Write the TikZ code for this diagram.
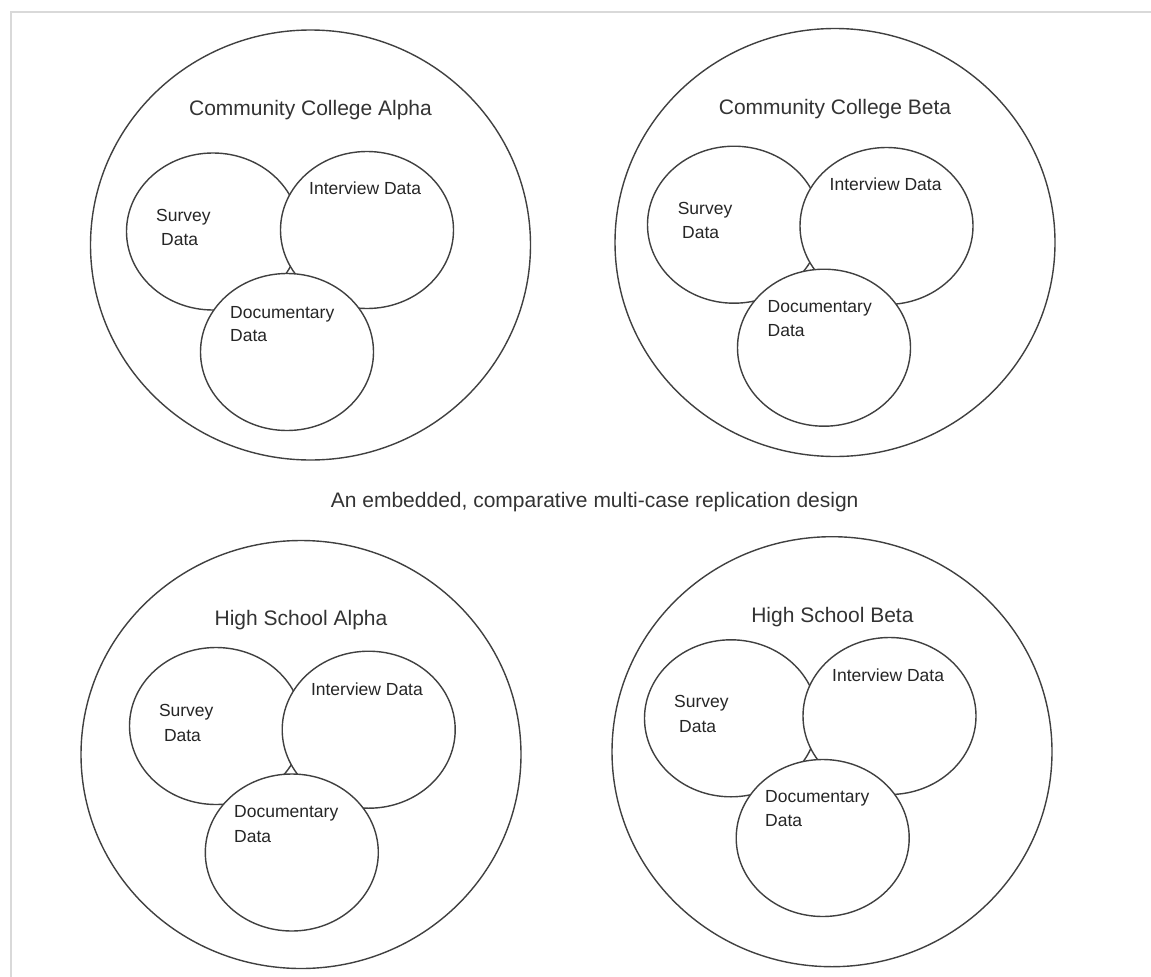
\documentclass[tikz,border=0pt]{standalone}
\usepackage{fontspec}
\setmainfont{Liberation Sans}
\begin{document}
\begin{tikzpicture}[x=1pt,y=-1pt,
	ring/.style={draw=black!75,line width=1.4pt,fill=white},
	casename/.style={anchor=base,text=black!80,font=\fontsize{21}{25}\selectfont},
	datalabel/.style={anchor=base west,inner sep=0pt,text=black!85,font=\fontsize{17.5}{20}\selectfont},
	frameline/.style={draw=black!15,line width=2pt}]
	\useasboundingbox (0,0) rectangle (1151,977);
	\draw[frameline] (11,977)--(11,12)--(1151,12);
	% Community College Alpha
	\draw[ring] (310.5,245) ellipse (220 and 215);
	\draw[ring] (213,231.5) ellipse (86.5 and 78.5);
	\draw[ring] (367,230) ellipse (86.5 and 78.5);
	\draw[ring] (287,352) ellipse (86.5 and 78.5);
	\node[casename] (cca) at (310.5,115.5) {Community College Alpha};
	\node[datalabel] (ccaSurvey) at (156,221) {Survey};
	\node[datalabel] (ccaSurveyData) at (161,245) {Data};
	\node[datalabel] (ccaInterview) at (309,194) {Interview Data};
	\node[datalabel] (ccaDoc) at (230,318) {Documentary};
	\node[datalabel] (ccaDocData) at (230,341) {Data};
	% Community College Beta
	\draw[ring] (835,242.5) ellipse (220 and 214);
	\draw[ring] (734,224.7) ellipse (86.5 and 78.5);
	\draw[ring] (886.5,226) ellipse (86.5 and 78.5);
	\draw[ring] (824,347.7) ellipse (86.5 and 78.5);
	\node[casename] (ccb) at (835,114.5) {Community College Beta};
	\node[datalabel] (ccbSurvey) at (677.6,214) {Survey};
	\node[datalabel] (ccbSurveyData) at (682,238) {Data};
	\node[datalabel] (ccbInterview) at (829.5,190) {Interview Data};
	\node[datalabel] (ccbDoc) at (767.5,312) {Documentary};
	\node[datalabel] (ccbDocData) at (767.5,336) {Data};
	% caption
	\node[casename] (design) at (594.7,507.5) {An embedded, comparative multi-case replication design};
	% High School Alpha
	\draw[ring] (301,754.5) ellipse (220 and 214);
	\draw[ring] (216,726) ellipse (86.5 and 78.5);
	\draw[ring] (368.7,729.7) ellipse (86.5 and 78.5);
	\draw[ring] (291.8,852.5) ellipse (86.5 and 78.5);
	\node[casename] (hsa) at (301,625.8) {High School Alpha};
	\node[datalabel] (hsaSurvey) at (158.8,716) {Survey};
	\node[datalabel] (hsaSurveyData) at (163.8,741) {Data};
	\node[datalabel] (hsaInterview) at (310.8,695.3) {Interview Data};
	\node[datalabel] (hsaDoc) at (234,817.7) {Documentary};
	\node[datalabel] (hsaDocData) at (234,842) {Data};
	% High School Beta
	\draw[ring] (832,751.7) ellipse (220 and 215);
	\draw[ring] (731,718.3) ellipse (86.5 and 78.5);
	\draw[ring] (889.5,716) ellipse (86.5 and 78.5);
	\draw[ring] (822.7,838) ellipse (86.5 and 78.5);
	\node[casename] (hsb) at (832.4,622.5) {High School Beta};
	\node[datalabel] (hsbSurvey) at (674,707.7) {Survey};
	\node[datalabel] (hsbSurveyData) at (679,732) {Data};
	\node[datalabel] (hsbInterview) at (832,681) {Interview Data};
	\node[datalabel] (hsbDoc) at (765,802) {Documentary};
	\node[datalabel] (hsbDocData) at (765,826.7) {Data};
\end{tikzpicture}
\end{document}
